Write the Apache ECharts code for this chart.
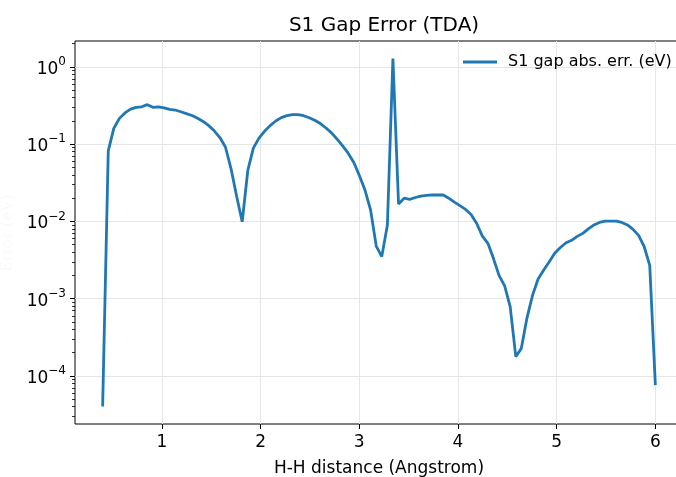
<!DOCTYPE html>
<html>
<head>
<meta charset="utf-8">
<script src="https://cdn.jsdelivr.net/npm/echarts@6/dist/echarts.min.js"></script>
<style>
html,body{margin:0;padding:0;background:#fff;overflow:hidden;}
#chart{width:676px;height:477px;}
</style>
</head>
<body>
<div id="chart"></div>
<script>
// H-H distance (Angstrom)
const distances = [
0.400,0.457,0.513,0.570,0.626,0.683,0.739,0.796,0.853,0.909,
0.966,1.022,1.079,1.135,1.192,1.248,1.305,1.362,1.418,1.475,
1.531,1.588,1.644,1.701,1.758,1.814,1.871,1.927,1.984,2.040,
2.097,2.154,2.210,2.267,2.323,2.380,2.436,2.493,2.549,2.606,
2.663,2.719,2.776,2.832,2.889,2.945,3.002,3.058,3.115,3.172,
3.228,3.285,3.341,3.398,3.455,3.511,3.568,3.624,3.681,3.737,
3.794,3.851,3.907,3.964,4.020,4.077,4.133,4.190,4.246,4.303,
4.360,4.416,4.473,4.529,4.586,4.642,4.699,4.756,4.812,4.869,
4.925,4.982,5.038,5.095,5.152,5.208,5.265,5.321,5.378,5.434,
5.491,5.547,5.604,5.660,5.717,5.774,5.830,5.887,5.943,6.000
];
// S1 gap absolute error (eV)
const gapErrors = [
4.0e-5,0.082,0.16,0.216,0.254,0.284,0.300,0.305,0.325,0.300,
0.304,0.296,0.283,0.277,0.263,0.249,0.235,0.217,0.197,0.174,
0.149,0.122,0.092,0.048,0.021,0.0099,0.046,0.089,0.120,0.147,
0.174,0.200,0.221,0.234,0.241,0.241,0.234,0.220,0.204,0.185,
0.162,0.140,0.116,0.095,0.076,0.058,0.039,0.0255,0.014,0.0048,
0.0035,0.0090,1.29,0.0168,0.0200,0.0193,0.0204,0.0213,0.0218,0.0220,
0.0220,0.0220,0.0200,0.0178,0.0160,0.0143,0.0123,0.0094,0.0065,0.0052,
0.0033,0.0020,0.00146,0.00079,0.000177,0.000227,0.00056,0.00111,0.0018,0.00235,
0.0030,0.0039,0.0046,0.0053,0.0057,0.0064,0.0070,0.0080,0.0090,0.0097,
0.0101,0.0101,0.0101,0.0097,0.0090,0.0079,0.0066,0.0047,0.0027,7.6e-5
];
const xTicks = [1,2,3,4,5,6];
const yTicks = [1e-4,1e-3,1e-2,1e-1,1];
const yTickExponents = ['\u22124','\u22123','\u22122','\u22121','0'];
const yMinorTicks = [3e-5,4e-5,5e-5,6e-5,7e-5,8e-5,9e-5,
2e-4,3e-4,4e-4,5e-4,6e-4,7e-4,8e-4,9e-4,
2e-3,3e-3,4e-3,5e-3,6e-3,7e-3,8e-3,9e-3,
2e-2,3e-2,4e-2,5e-2,6e-2,7e-2,8e-2,9e-2,
0.2,0.3,0.4,0.5,0.6,0.7,0.8,0.9,2];
const seriesName = 'S1 gap abs. err. (eV)';

const FONT = 'DejaVu Sans';
const chart = echarts.init(document.getElementById('chart'), null, {renderer:'canvas'});
const pts = distances.map((d,i)=>[d, gapErrors[i]]);
const yMin = 2.38e-5, yMax = 2.17;

chart.setOption({
  animation:false,
  backgroundColor:'#fff',
  textStyle:{fontFamily:FONT},
  title:{
    text:'S1 Gap Error (TDA)',
    left:379, top:11, textAlign:'center',
    textStyle:{fontFamily:FONT,fontSize:20,fontWeight:'normal',color:'#000'}
  },
  legend:{
    data:[seriesName],
    left:463, top:54, padding:0,
    icon:'rect',
    itemWidth:34, itemHeight:3,
    textStyle:{fontFamily:FONT,fontSize:16,color:'#000',padding:[0,0,0,6]}
  },
  grid:{left:75, width:608, top:41, bottom:53, show:true, borderColor:'#000', borderWidth:1,
        backgroundColor:'transparent', containLabel:false, outerBoundsMode:'none'},
  xAxis:{
    type:'value', min:0.12, max:6.28,
    name:'H-H distance (Angstrom)', nameLocation:'middle', nameGap:36,
    nameTextStyle:{fontFamily:FONT,fontSize:17,color:'#000'},
    axisLine:{show:false},
    axisTick:{show:true, inside:false, length:5, customValues:xTicks, lineStyle:{color:'#000',width:1}},
    axisLabel:{customValues:xTicks, margin:10, fontFamily:FONT, fontSize:17, color:'#000'},
    splitLine:{show:true, lineStyle:{color:'#e6e6e6', width:1}}
  },
  yAxis:[{
    type:'log', min:yMin, max:yMax, logBase:10,
    name:'Error (eV)', nameLocation:'middle', nameGap:56,
    nameTextStyle:{fontFamily:FONT,fontSize:16,color:'#fafafa'},
    axisLine:{show:false},
    axisTick:{show:true, inside:false, length:5, customValues:yTicks, lineStyle:{color:'#000',width:1}},
    axisLabel:{customValues:yTicks, margin:9, color:'#000',
      formatter:function(v){
        const i = yTicks.findIndex(t=>Math.abs(Math.log10(t)-Math.log10(v))<1e-6);
        return i>=0 ? '{b|10}{e|' + yTickExponents[i] + '}' : '';
      },
      rich:{
        b:{fontFamily:FONT,fontSize:17,color:'#000',lineHeight:22,verticalAlign:'bottom'},
        e:{fontFamily:FONT,fontSize:12,color:'#000',lineHeight:22,verticalAlign:'top'}
      }},
    splitLine:{show:true, lineStyle:{color:'#e6e6e6', width:1}}
  },{
    type:'log', min:yMin, max:yMax, logBase:10, position:'left',
    axisLine:{show:false},
    axisTick:{show:true, inside:false, length:3, customValues:yMinorTicks, lineStyle:{color:'#000',width:0.8}},
    axisLabel:{show:false, customValues:yMinorTicks},
    splitLine:{show:false}
  }],
  series:[{
    name:seriesName, type:'line', data:pts, yAxisIndex:0,
    symbol:'none', smooth:false,
    lineStyle:{color:'#1f77b4', width:2.8},
    itemStyle:{color:'#1f77b4'}
  }]
});
</script>
</body>
</html>
